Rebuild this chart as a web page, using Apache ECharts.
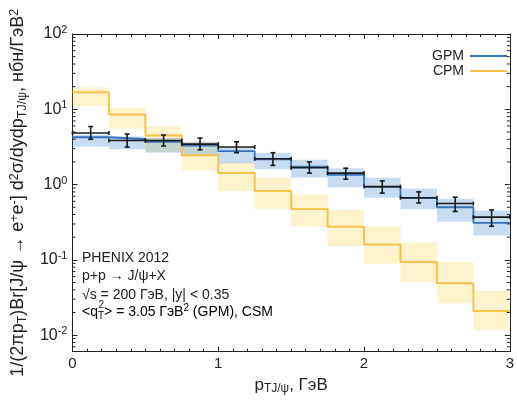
<!DOCTYPE html>
<html><head><meta charset="utf-8">
<script src="https://cdn.jsdelivr.net/npm/echarts@6/dist/echarts.min.js"></script>
<style>html,body{margin:0;padding:0;background:#fff}#c{width:517px;height:400px}</style>
</head><body><div id="c"></div>
<script>
// bin edges in p_T (GeV)
const binEdges = [0, 0.25, 0.5, 0.75, 1.0, 1.25, 1.5, 1.75, 2.0, 2.25, 2.5, 2.75, 3.0];
// GPM prediction (per bin) and uncertainty band
const gpm   = [4.25, 4.0, 3.7, 3.3, 2.78, 2.17, 1.73, 1.35, 0.93, 0.66, 0.50, 0.31];
const gpmLo = [3.2, 2.95, 2.65, 2.4, 1.9, 1.6, 1.24, 0.92, 0.67, 0.47, 0.32, 0.21];
const gpmHi = [4.6, 4.35, 4.15, 3.7, 3.1, 2.63, 2.14, 1.65, 1.23, 0.89, 0.65, 0.45];
// CPM prediction (per bin) and uncertainty band
const cpm   = [16.9, 8.5, 4.5, 2.45, 1.42, 0.82, 0.474, 0.276, 0.16, 0.0935, 0.049, 0.021];
const cpmLo = [11.1, 5.55, 2.7, 1.51, 0.82, 0.478, 0.276, 0.153, 0.089, 0.0507, 0.0265, 0.0116];
const cpmHi = [19.4, 10.5, 5.95, 3.7, 1.97, 1.23, 0.74, 0.46, 0.28, 0.169, 0.0935, 0.0385];
// PHENIX 2012 data points with error bars
const dataVal = [4.85, 3.85, 3.85, 3.45, 3.15, 2.2, 1.67, 1.42, 0.94, 0.67, 0.56, 0.37];
const dataHi  = [5.9, 4.7, 4.55, 4.15, 3.7, 2.65, 2.0, 1.65, 1.12, 0.8, 0.68, 0.46];
const dataLo  = [4.0, 3.15, 3.25, 2.9, 2.65, 1.8, 1.42, 1.18, 0.77, 0.57, 0.44, 0.28];
// axis tick values
const xTicks = [0, 1, 2, 3];
const yMajor = [0.01, 0.1, 1, 10, 100];
const yMinor = [0.007, 0.008, 0.009, 0.02, 0.03, 0.04, 0.05, 0.06, 0.07, 0.08, 0.09,
  0.2, 0.3, 0.4, 0.5, 0.6, 0.7, 0.8, 0.9, 2, 3, 4, 5, 6, 7, 8, 9, 20, 30, 40, 50, 60, 70, 80, 90];
const yMin = 0.00605, yMax = 100;

const FONT = '"Liberation Sans", Arial, sans-serif';
const AX = '#222';

function stepData(vals) {
  const d = vals.map((v, i) => [binEdges[i], v]);
  d.push([binEdges[binEdges.length - 1], vals[vals.length - 1]]);
  return d;
}
function bandData(lo, hi) {
  return lo.map((l, i) => [binEdges[i], binEdges[i + 1], l, hi[i]]);
}
function bandRender(fill) {
  return function (params, api) {
    const p1 = api.coord([api.value(0), api.value(3)]);
    const p2 = api.coord([api.value(1), api.value(2)]);
    return { type: 'rect', shape: { x: p1[0], y: p1[1], width: p2[0] - p1[0], height: p2[1] - p1[1] },
      style: { fill: fill } };
  };
}
const ptsData = dataVal.map((v, i) => [binEdges[i], binEdges[i + 1], v, dataLo[i], dataHi[i]]);
function errRender(params, api) {
  const a = api.coord([api.value(0), api.value(2)]);
  const b = api.coord([api.value(1), api.value(2)]);
  const cx = (a[0] + b[0]) / 2;
  const lo = api.coord([0, api.value(3)])[1];
  const hi = api.coord([0, api.value(4)])[1];
  const st = { stroke: '#1a1a1a', lineWidth: 1.6 };
  const L = (x1, y1, x2, y2) => ({ type: 'line', shape: { x1, y1, x2, y2 }, style: st });
  return { type: 'group', children: [
    L(a[0], a[1], b[0], b[1]),
    L(a[0], a[1] - 2, a[0], a[1] + 2),
    L(b[0], b[1] - 2, b[0], b[1] + 2),
    L(cx, lo, cx, hi),
    L(cx - 2.5, lo, cx + 2.5, lo),
    L(cx - 2.5, hi, cx + 2.5, hi)
  ] };
}
function minorRender(params, api) {
  const cs = params.coordSys;
  const y = api.coord([0, api.value(1)])[1];
  const st = { stroke: AX, lineWidth: 1 };
  return { type: 'group', children: [
    { type: 'line', shape: { x1: cs.x, y1: y, x2: cs.x + 3, y2: y }, style: st },
    { type: 'line', shape: { x1: cs.x + cs.width - 3, y1: y, x2: cs.x + cs.width, y2: y }, style: st }
  ] };
}

function mkRich(base, small, shift) {
  return {
    n: { fontSize: base, fontFamily: FONT, color: AX },
    sup: { fontSize: small, padding: [0, 0, shift, 0], fontFamily: FONT, color: AX },
    sub: { fontSize: small, padding: [shift, 0, 0, 0], fontFamily: FONT, color: AX }
  };
}

function yLabel(v) {
  const e = Math.log10(v);
  const r = Math.round(e);
  if (Math.abs(e - r) > 1e-6) return '';
  if (yMajor.indexOf(Math.pow(10, r)) < 0 && Math.abs(Math.pow(10, r) - v) > 1e-9) return '';
  return '{n|10}{sup|' + r + '}';
}

const xCommon = {
  type: 'value', min: 0, max: 3, interval: 1,
  axisLine: { show: true, onZero: false, lineStyle: { color: AX, width: 1 } },
  axisTick: { show: true, inside: true, length: 5, lineStyle: { color: AX } },
  minorTick: { show: true, splitNumber: 10, length: 3, lineStyle: { color: AX } },
  splitLine: { show: false }, minorSplitLine: { show: false }
};
const yCommon = {
  type: 'log', logBase: 10, min: yMin, max: yMax,
  axisLine: { show: true, onZero: false, lineStyle: { color: AX, width: 1 } },
  axisTick: { show: true, inside: true, length: 5, lineStyle: { color: AX } },
  splitLine: { show: false }
};

const chart = echarts.init(document.getElementById('c'), null, { renderer: 'canvas' });
chart.setOption({
  animation: false,
  backgroundColor: '#fff',
  textStyle: { fontFamily: FONT },
  grid: { left: 67, right: 7, top: 34, bottom: 37, containLabel: false },
  legend: {
    data: ['GPM', 'CPM'], orient: 'vertical', right: 5, top: 44, align: 'right',
    icon: 'rect', itemWidth: 37, itemHeight: 2, itemGap: 1,
    textStyle: { fontSize: 14, color: AX, fontFamily: FONT, padding: [0, 1, 0, 0] }
  },
  xAxis: [
    Object.assign({}, xCommon, {
      position: 'bottom',
      axisLabel: { show: true, fontSize: 15, color: AX, margin: 5, fontFamily: FONT,
        formatter: v => xTicks.indexOf(v) >= 0 ? String(v) : '' },
      name: '{n|p}{sub|TJ/ψ}{n|, ГэВ}', nameLocation: 'middle', nameGap: 15,
      nameTextStyle: { rich: mkRich(17, 12, 8) }
    }),
    Object.assign({}, xCommon, { position: 'top', axisLabel: { show: false } })
  ],
  yAxis: [
    Object.assign({}, yCommon, {
      position: 'left',
      axisLabel: { show: true, margin: 5, formatter: yLabel, rich: mkRich(16, 11, 8) },
      name: '{n|1/(2πp}{sub|T}{n|)Br[J/ψ → e}{sup|+}{n|e}{sup|-}{n|] d}{sup|2}{n|σ/dydp}{sub|TJ/ψ}{n|, нбн/ГэВ}{sup|2}',
      nameLocation: 'middle', nameGap: 41, nameRotate: 90,
      nameTextStyle: { rich: mkRich(18, 12.5, 8) }
    }),
    Object.assign({}, yCommon, { position: 'right', axisLabel: { show: false } })
  ],
  graphic: [
    { type: 'text', left: 82, top: 251, style: { text: 'PHENIX 2012', font: '14px ' + FONT, fill: AX } },
    { type: 'text', left: 82, top: 269, style: { text: 'p+p → J/ψ+X', font: '14px ' + FONT, fill: AX } },
    { type: 'text', left: 82, top: 288, style: { text: '√s = 200 ГэВ, |y| < 0.35', font: '14px ' + FONT, fill: AX } },
    { type: 'text', left: 82, top: 303, style: {
      text: '{n|<q}{sub|T}{n|> = 3.05 ГэВ}{sup|2}{n| (GPM), CSM}',
      rich: mkRich(14, 10, 8) } },
    { type: 'text', left: 98.5, top: 300, style: { text: '2', font: '10px ' + FONT, fill: AX } }
  ],
  series: [
    { type: 'custom', name: 'cpmBand', renderItem: bandRender('rgba(250,215,90,0.30)'),
      data: bandData(cpmLo, cpmHi), encode: { x: [0, 1], y: [2, 3] }, z: 1, silent: true },
    { type: 'custom', name: 'gpmBand', renderItem: bandRender('rgba(80,145,210,0.32)'),
      data: bandData(gpmLo, gpmHi), encode: { x: [0, 1], y: [2, 3] }, z: 2, silent: true },
    { type: 'line', name: 'CPM', step: 'end', data: stepData(cpm), showSymbol: false, symbol: 'none',
      lineStyle: { color: '#f6c24c', width: 2 }, itemStyle: { color: '#f6c24c' }, z: 3 },
    { type: 'line', name: 'GPM', step: 'end', data: stepData(gpm), showSymbol: false, symbol: 'none',
      lineStyle: { color: '#3a72b8', width: 1.8 }, itemStyle: { color: '#3a72b8' }, z: 4 },
    { type: 'custom', name: 'data', renderItem: errRender, data: ptsData,
      encode: { x: [0, 1], y: [2, 3, 4] }, z: 5, silent: true },
    { type: 'custom', name: 'minor', renderItem: minorRender, data: yMinor.map(v => [0, v]),
      encode: { x: 0, y: 1 }, z: 6, silent: true }
  ]
});
</script></body></html>
